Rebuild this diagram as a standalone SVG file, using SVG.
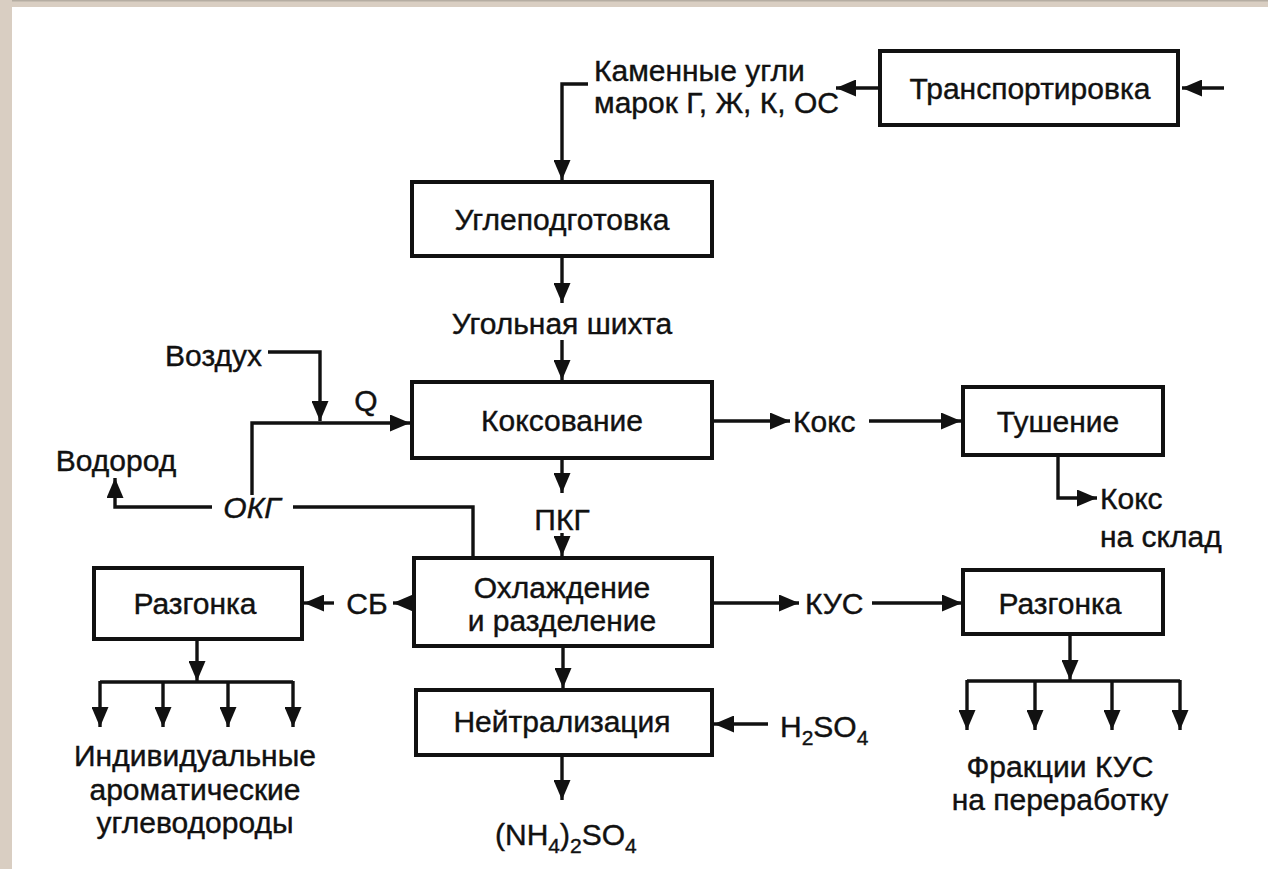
<svg xmlns="http://www.w3.org/2000/svg" width="1268" height="869" viewBox="0 0 1268 869">
<defs>
<marker id="ah" viewBox="0 0 10 10" refX="10" refY="5" markerWidth="20" markerHeight="17" orient="auto" markerUnits="userSpaceOnUse" preserveAspectRatio="none">
<path d="M0,0 L10,5 L0,10 z" fill="#111"/>
</marker>
</defs>
<style>
.box{fill:#fff;stroke:#111;stroke-width:4}
.t{font-family:"Liberation Sans",Arial,sans-serif;font-size:30px;fill:#111;stroke:#111;stroke-width:0.4}
.s{font-size:21px}
.c{text-anchor:middle}
.ln{fill:none;stroke:#111;stroke-width:3.4}
.ar{fill:none;stroke:#111;stroke-width:3.4;marker-end:url(#ah)}
.it{font-style:italic}
</style>
<rect x="0" y="0" width="1268" height="869" fill="#fff"/>
<rect x="0" y="0" width="1268" height="7" fill="#d9cec2"/>
<rect x="0" y="0" width="1268" height="1.5" fill="#b5ada2"/>
<rect x="0" y="0" width="12" height="869" fill="#d9cec2"/>

<g id="connectors">
<line class="ar" x1="1224" y1="88" x2="1182" y2="88"/>
<line class="ar" x1="880" y1="88" x2="836" y2="88"/>
<polyline class="ar" points="588,84 562,84 562,180"/>
<line class="ar" x1="562" y1="256" x2="562" y2="303"/>
<line class="ar" x1="562" y1="340" x2="562" y2="380"/>
<polyline class="ar" points="268,352 320,352 320,421"/>
<polyline class="ar" points="252,495 252,423 410,423"/>
<polyline class="ln" points="293,507 473,507 473,558"/>
<polyline class="ar" points="212,507 115,507 115,478"/>
<line class="ar" x1="712" y1="421" x2="790" y2="421"/>
<line class="ar" x1="869" y1="421" x2="961" y2="421"/>
<polyline class="ar" points="1058,455 1058,498 1097,498"/>
<line class="ar" x1="562" y1="458" x2="562" y2="493"/>
<line class="ar" x1="562" y1="533" x2="562" y2="556"/>
<line class="ar" x1="414" y1="603" x2="393" y2="603"/>
<line class="ar" x1="334" y1="603" x2="304" y2="603"/>
<line class="ar" x1="197" y1="639" x2="197" y2="681"/>
<line class="ln" x1="100" y1="682" x2="293" y2="682"/>
<line class="ar" x1="100" y1="681" x2="100" y2="727"/>
<line class="ar" x1="163" y1="681" x2="163" y2="727"/>
<line class="ar" x1="228" y1="681" x2="228" y2="727"/>
<line class="ar" x1="293" y1="681" x2="293" y2="727"/>
<line class="ar" x1="712" y1="603" x2="799" y2="603"/>
<line class="ar" x1="872" y1="603" x2="962" y2="603"/>
<line class="ar" x1="1070" y1="634" x2="1070" y2="680"/>
<line class="ln" x1="967" y1="681" x2="1180" y2="681"/>
<line class="ar" x1="967" y1="680" x2="967" y2="730"/>
<line class="ar" x1="1035" y1="680" x2="1035" y2="730"/>
<line class="ar" x1="1112" y1="680" x2="1112" y2="730"/>
<line class="ar" x1="1180" y1="680" x2="1180" y2="730"/>
<line class="ar" x1="563" y1="646" x2="563" y2="688"/>
<line class="ar" x1="768" y1="724" x2="714" y2="724"/>
<line class="ar" x1="562" y1="755" x2="562" y2="800"/>
</g>

<g id="transport">
<rect class="box" x="880" y="51" width="298" height="74"/>
<text class="t c" x="1030" y="99">Транспортировка</text>
</g>
<g id="coal-label">
<text class="t" x="594" y="81">Каменные угли</text>
<text class="t" x="594" y="113">марок Г, Ж, К, ОС</text>
</g>
<g id="coal-prep">
<rect class="box" x="412" y="182" width="300" height="74"/>
<text class="t c" x="562" y="230">Углеподготовка</text>
</g>
<g id="charge-label">
<text class="t c" x="562" y="334">Угольная шихта</text>
</g>
<g id="coking">
<rect class="box" x="412" y="382" width="300" height="76"/>
<text class="t c" x="562" y="431">Коксование</text>
</g>
<g id="air-label"><text class="t" x="262" y="366" text-anchor="end">Воздух</text></g>
<g id="q-label"><text class="t c" x="366" y="411">Q</text></g>
<g id="hydrogen-label"><text class="t c" x="116" y="471">Водород</text></g>
<g id="okg-label"><text class="t c it" x="252" y="518">ОКГ</text></g>
<g id="pkg-label"><text class="t c" x="562" y="530">ПКГ</text></g>
<g id="coke-label"><text class="t" x="793" y="432">Кокс</text></g>
<g id="quench">
<rect class="box" x="963" y="387" width="200" height="68"/>
<text class="t c" x="1058" y="432">Тушение</text>
</g>
<g id="coke-store-label">
<text class="t" x="1100" y="509">Кокс</text>
<text class="t" x="1100" y="547">на склад</text>
</g>
<g id="cooling">
<rect class="box" x="414" y="558" width="298" height="88"/>
<text class="t c" x="562" y="598">Охлаждение</text>
<text class="t c" x="562" y="631">и разделение</text>
</g>
<g id="sb-label"><text class="t c" x="367" y="614">СБ</text></g>
<g id="distill-left">
<rect class="box" x="94" y="568" width="208" height="71"/>
<text class="t c" x="195" y="614">Разгонка</text>
</g>
<g id="aromatics-label">
<text class="t c" x="195" y="766">Индивидуальные</text>
<text class="t c" x="195" y="800">ароматические</text>
<text class="t c" x="195" y="833">углеводороды</text>
</g>
<g id="kus-label"><text class="t" x="805" y="614">КУС</text></g>
<g id="distill-right">
<rect class="box" x="963" y="570" width="200" height="64"/>
<text class="t c" x="1060" y="614">Разгонка</text>
</g>
<g id="fractions-label">
<text class="t c" x="1060" y="777">Фракции КУС</text>
<text class="t c" x="1060" y="810">на переработку</text>
</g>
<g id="neutral">
<rect class="box" x="416" y="690" width="296" height="65"/>
<text class="t c" x="562" y="732">Нейтрализация</text>
</g>
<g id="h2so4-label">
<text class="t" x="780" y="737">H<tspan class="s" dy="8">2</tspan><tspan dy="-8">SO</tspan><tspan class="s" dy="8">4</tspan></text>
</g>
<g id="nh4-label">
<text class="t" x="495" y="845">(NH<tspan class="s" dy="8">4</tspan><tspan dy="-8">)</tspan><tspan class="s" dy="8">2</tspan><tspan dy="-8">SO</tspan><tspan class="s" dy="8">4</tspan></text>
</g>
</svg>
